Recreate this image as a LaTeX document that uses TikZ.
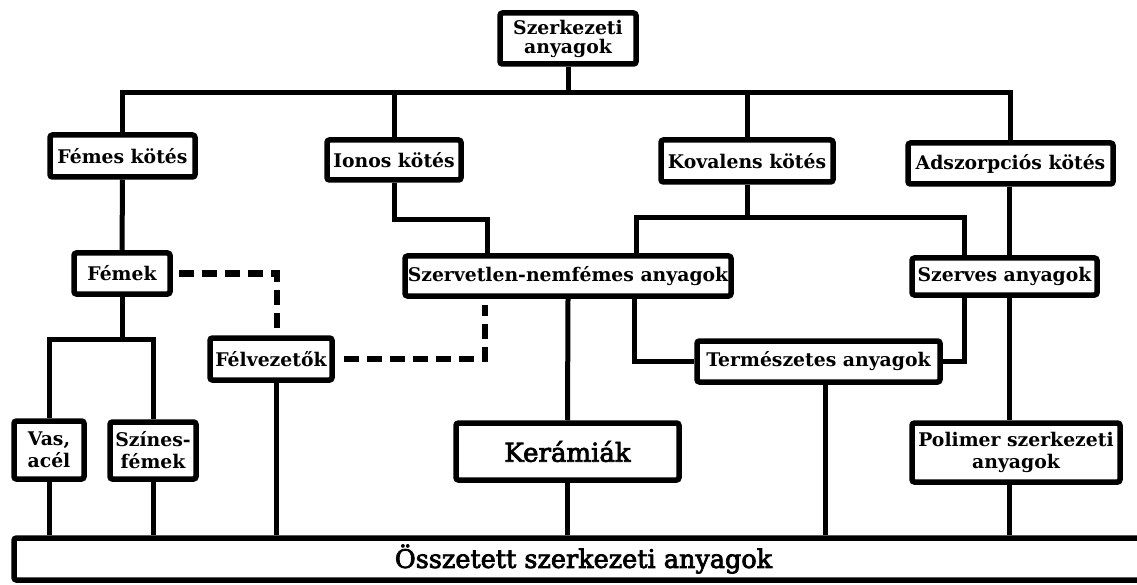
\documentclass[tikz,border=0pt]{standalone}
\usepackage{fontspec}
\setmainfont{DejaVu Serif}
\newfontfamily\medfont{DejaVu Serif}[FakeBold=3]
\usetikzlibrary{calc}
\begin{document}
\begin{tikzpicture}[x=1pt,y=-1pt,
  box/.style={draw, line width=5.5pt, rounded corners=2.5pt, fill=white, inner sep=0pt,
    align=center, font=\bfseries\fontsize{18.8}{22}\selectfont},
  bigbox/.style={box, font=\medfont\fontsize{26}{30}\selectfont},
  conn/.style={line width=5pt},
  dashconn/.style={line width=6pt, dash pattern=on 15pt off 8pt}]
\useasboundingbox (0,0) rectangle (1137,585);
\clip (0,0) rectangle (1137,585);
\fill[white] (0,0) rectangle (1137,585);
\coordinate (bus) at (0,93);
\coordinate (kovbus) at (0,218);
\coordinate (ionbus) at (0,220);
\coordinate (fembus) at (0,339);
\coordinate (xr) at (1009,0);

\node[box, minimum width=136pt, minimum height=51pt] (top) at (568,38.5) {Szerkezeti\\[-3pt]anyagok};
\node[box, minimum width=145pt, minimum height=42pt] (femk) at (122.5,156) {Fémes kötés};
\node[box, minimum width=134pt, minimum height=40pt] (ion) at (394,160) {Ionos kötés};
\node[box, minimum width=172pt, minimum height=42pt] (kov) at (747,161) {Kovalens kötés};
\node[box, minimum width=205pt, minimum height=41pt] (adsz) at (1010.5,163.5) {Adszorpciós kötés};
\node[box, minimum width=96pt, minimum height=41pt] (femek) at (122,273.5) {Fémek};
\node[box, minimum width=326pt, minimum height=40pt] (szerv) at (568,276) {Szervetlen-nemfémes anyagok};
\node[box, minimum width=185pt, minimum height=37pt] (szerves) at (1004.5,276.5) {Szerves anyagok};
\node[box, minimum width=122pt, minimum height=42pt] (fel) at (271,359) {Félvezetők};
\node[box, minimum width=243pt, minimum height=41pt] (term) at (818.5,361.5) {Természetes anyagok};
\node[box, minimum width=70pt, minimum height=58pt] (vas) at (49,450) {Vas,\\acél};
\node[box, minimum width=86pt, minimum height=57pt] (szin) at (153,450.5) {Színes-\\fémek};
\node[bigbox, minimum width=223pt, minimum height=57pt] (ker) at (567.5,451.5) {Kerámiák};
\node[box, minimum width=208pt, minimum height=59pt] (pol) at (1016,452.5) {Polimer szerkezeti\\anyagok};
\node[bigbox, font=\medfont\fontsize{25.5}{29}\selectfont, minimum width=1139pt, minimum height=42pt] (ossz) at (583.5,559) {Összetett szerkezeti anyagok};

% top level
\draw[conn] (top.south) -- (top.south |- bus);
\draw[conn] (femk.north) |- (adsz.north |- bus) -- (adsz.north);
\draw[conn] (ion.north) -- (ion.north |- bus);
\draw[conn] (kov.north) -- (kov.north |- bus);
% metals
\draw[conn] (femk.south) -- (femek.north);
\draw[conn] (femek.south) -- (femek.south |- fembus);
\draw[conn] (vas.north) |- (szin.north |- fembus) -- (szin.north);
\draw[conn] (vas.south) -- (vas.south |- ossz.north);
\draw[conn] (szin.south) -- (szin.south |- ossz.north);
\draw[conn] (fel.south) ++(5,0) coordinate (fels) -- (fels |- ossz.north);
% ionic
\draw[conn] (ion.south) -- (ion.south |- ionbus) -| ([xshift=-81pt]szerv.north);
% covalent
\draw[conn] (kov.south) -- (kov.south |- kovbus);
\draw[conn] ([xshift=68pt]szerv.north) |- ([xshift=-40pt]szerves.north |- kovbus) -- ([xshift=-40pt]szerves.north);
% adsorption
\draw[conn] (adsz.south -| xr) -- (szerves.north -| xr);
% inorganic
\draw[conn] (szerv.south) -- (ker.north);
\draw[conn] (ker.south) -- (ker.south |- ossz.north);
\draw[conn] ([xshift=66pt]szerv.south) |- (term.west);
\draw[conn] ([xshift=-40pt]szerves.south) |- (term.east);
\draw[conn] ([xshift=6.5pt]term.south) -- ([xshift=6.5pt]term.south |- ossz.north);
% organic
\draw[conn] (szerves.south -| xr) -- (pol.north -| xr);
\draw[conn] (pol.south -| xr) -- (ossz.north -| xr);
% dashed
\draw[dashconn] ([xshift=6pt]femek.east) -| ([xshift=6pt,yshift=2pt]fel.north);
\draw[dashconn] ([xshift=9pt]fel.east) -| ([xshift=-83pt,yshift=-6pt]szerv.south);
\end{tikzpicture}
\end{document}
